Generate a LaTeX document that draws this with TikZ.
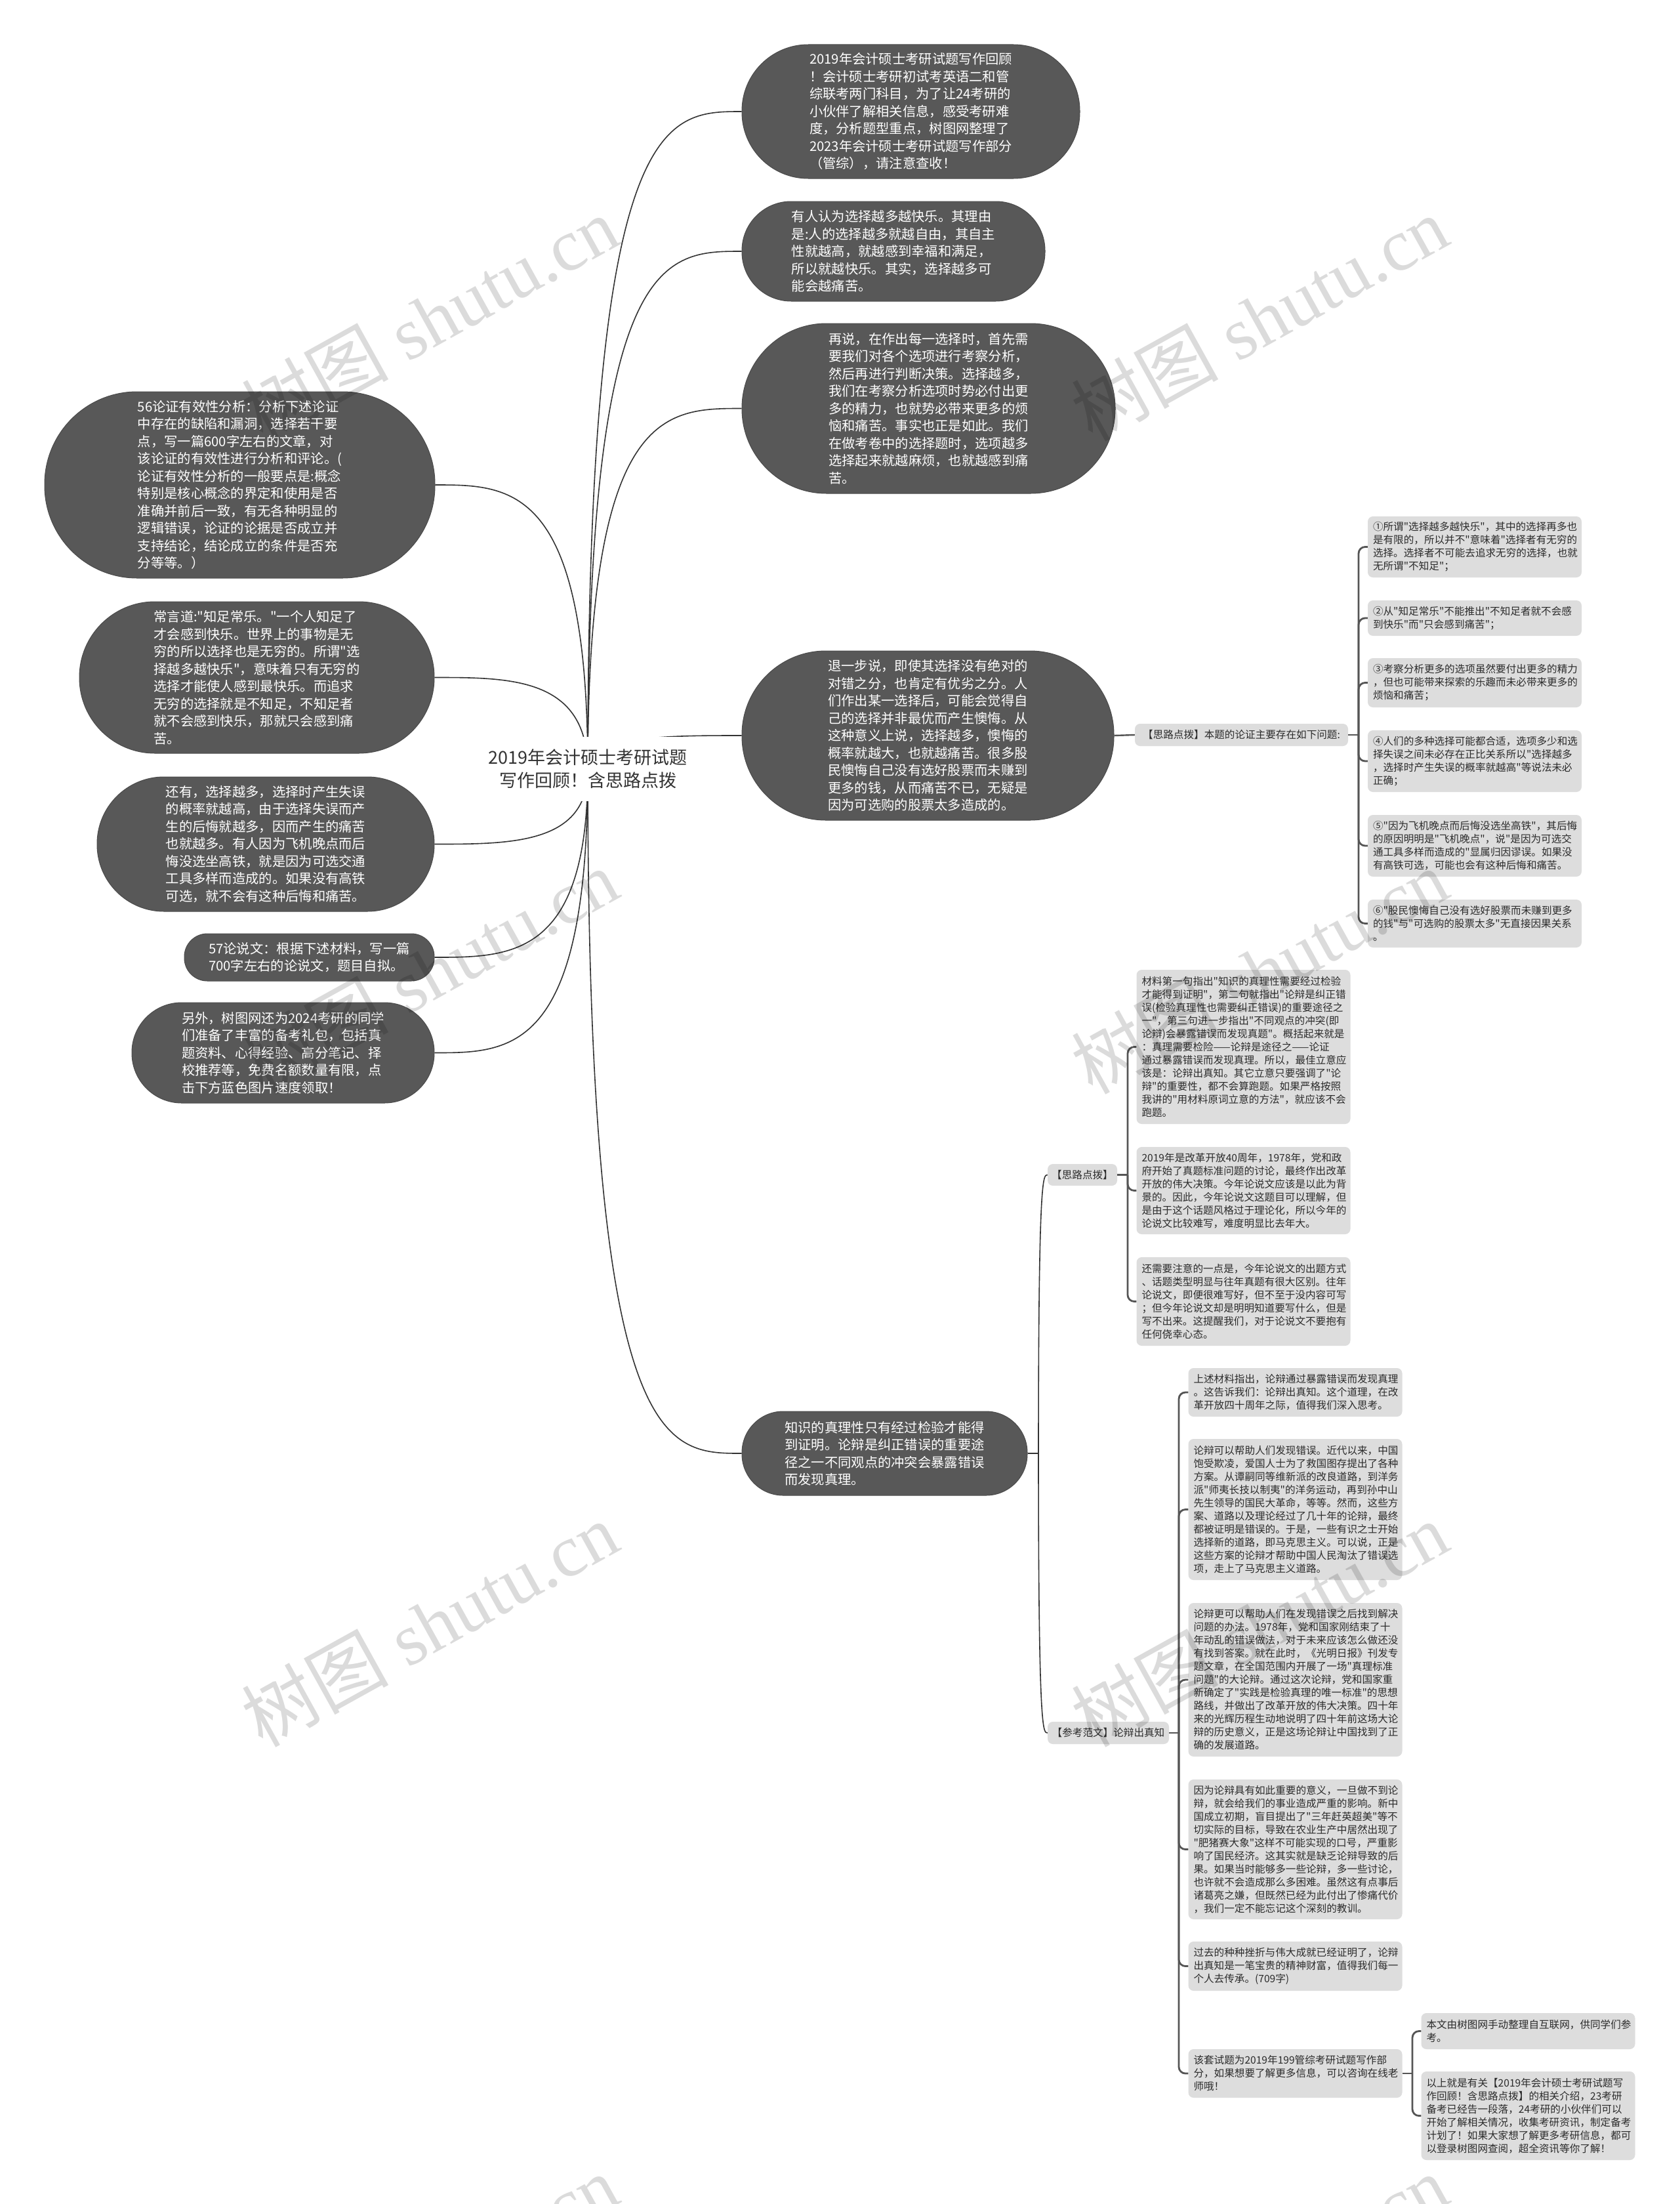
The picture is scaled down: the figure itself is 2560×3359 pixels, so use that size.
\documentclass[tikz,border=0pt]{standalone}
\usepackage{fontspec}
\newfontfamily\cjk{Noto Sans CJK SC}
\newfontfamily\wmserif{Liberation Serif}
\usetikzlibrary{calc}
\definecolor{darkfill}{HTML}{585858}
\definecolor{darkedge}{HTML}{4A4A4A}
\definecolor{lightfill}{HTML}{DDDDDD}
\definecolor{lighttext}{HTML}{2B2B2B}
\definecolor{linkc}{HTML}{333333}
\definecolor{brkc}{HTML}{555555}
\definecolor{roottext}{HTML}{333333}
\newcommand\rlink[2]{\draw[link] (#1) .. controls (#1 |- #2) and ($(#1 |- #2)!0.5!(#2)$) .. (#2);}
\begin{document}
\begin{tikzpicture}[x=1pt,y=-1pt,
  dark/.style={draw=darkedge, line width=1pt, fill=darkfill, text=white, font=\cjk\fontsize{20.3pt}{26.5pt}\selectfont, align=left, inner sep=0pt},
  light/.style={fill=lightfill, text=lighttext, font=\cjk\fontsize{15.6pt}{20pt}\selectfont, rounded corners=8pt, inner sep=0pt},
  lbox/.style={light, text width=310pt, align=left, inner xsep=8pt, inner ysep=0pt},
  lab/.style={light, align=center},
  rootnode/.style={fill=white, text=roottext, font=\cjk\fontsize{27pt}{35pt}\selectfont, align=center, inner sep=0pt, minimum width=312pt, minimum height=98pt},
  link/.style={draw=linkc, line width=1.6pt},
  brk/.style={draw=brkc, line width=2.8pt, rounded corners=10pt},
  wm/.style={rotate=29, opacity=0.14, text=black, font=\cjk\fontsize{112pt}{112pt}\selectfont, inner sep=0pt}
]
\useasboundingbox (0,0) rectangle (2560,3359);
\fill[white] (0,0) rectangle (2560,3359);

% ---------- first level dark nodes ----------
\node[dark, minimum width=515pt, minimum height=204pt, rounded corners=101pt] (n1) at (1388.5,170) {2019年会计硕士考研试题写作回顾\\！会计硕士考研初试考英语二和管\\综联考两门科目，为了让24考研的\\小伙伴了解相关信息，感受考研难\\度，分析题型重点，树图网整理了\\2023年会计硕士考研试题写作部分\\（管综），请注意查收！};
\node[dark, minimum width=462pt, minimum height=152pt, rounded corners=75pt] (n2) at (1362,383) {有人认为选择越多越快乐。其理由\\是:人的选择越多就越自由，其自主\\性就越高，就越感到幸福和满足，\\所以就越快乐。其实，选择越多可\\能会越痛苦。};
\node[dark, minimum width=569pt, minimum height=259pt, rounded corners=129pt] (n3) at (1415.5,622.5) {再说，在作出每一选择时，首先需\\要我们对各个选项进行考察分析，\\然后再进行判断决策。选择越多，\\我们在考察分析选项时势必付出更\\多的精力，也就势必带来更多的烦\\恼和痛苦。事实也正是如此。我们\\在做考卷中的选择题时，选项越多\\选择起来就越麻烦，也就越感到痛\\苦。};
\node[dark, minimum width=567pt, minimum height=258pt, rounded corners=128pt] (n4) at (1414.5,1121) {退一步说，即使其选择没有绝对的\\对错之分，也肯定有优劣之分。人\\们作出某一选择后，可能会觉得自\\己的选择并非最优而产生懊悔。从\\这种意义上说，选择越多，懊悔的\\概率就越大，也就越痛苦。很多股\\民懊悔自己没有选好股票而未赚到\\更多的钱，从而痛苦不已，无疑是\\因为可选购的股票太多造成的。};
\node[dark, minimum width=435pt, minimum height=128pt, rounded corners=63pt] (n5) at (1348.5,2215) {知识的真理性只有经过检验才能得\\到证明。论辩是纠正错误的重要途\\径之一不同观点的冲突会暴露错误\\而发现真理。};

\node[dark, minimum width=595pt, minimum height=284pt, rounded corners=141pt] (l1) at (365.5,739) {56论证有效性分析：分析下述论证\\中存在的缺陷和漏洞，选择若干要\\点，写一篇600字左右的文章，对\\该论证的有效性进行分析和评论。(\\论证有效性分析的一般要点是:概念\\特别是核心概念的界定和使用是否\\准确并前后一致，有无各种明显的\\逻辑错误，论证的论据是否成立并\\支持结论，结论成立的条件是否充\\分等等。）};
\node[dark, minimum width=541pt, minimum height=231pt, rounded corners=115pt] (l2) at (391.5,1032.5) {常言道:"知足常乐。"一个人知足了\\才会感到快乐。世界上的事物是无\\穷的所以选择也是无穷的。所谓"选\\择越多越快乐"，意味着只有无穷的\\选择才能使人感到最快乐。而追求\\无穷的选择就是不知足，不知足者\\就不会感到快乐，那就只会感到痛\\苦。};
\node[dark, minimum width=514pt, minimum height=205pt, rounded corners=102pt] (l3) at (405,1286.5) {还有，选择越多，选择时产生失误\\的概率就越高，由于选择失误而产\\生的后悔就越多，因而产生的痛苦\\也就越多。有人因为飞机晚点而后\\悔没选坐高铁，就是因为可选交通\\工具多样而造成的。如果没有高铁\\可选，就不会有这种后悔和痛苦。};
\node[dark, minimum width=381pt, minimum height=72pt, rounded corners=35pt] (l4) at (471.5,1459) {57论说文：根据下述材料，写一篇\\700字左右的论说文，题目自拟。};
\node[dark, minimum width=461pt, minimum height=153pt, rounded corners=76pt] (l5) at (431.5,1604.5) {另外，树图网还为2024考研的同学\\们准备了丰富的备考礼包，包括真\\题资料、心得经验、高分笔记、择\\校推荐等，免费名额数量有限，点\\击下方蓝色图片速度领取！};

% ---------- root links ----------
\coordinate (rc) at (896,1174);
\rlink{rc}{n1.west}
\rlink{rc}{n2.west}
\rlink{rc}{n3.west}
\rlink{rc}{n4.west}
\rlink{rc}{n5.west}
\rlink{rc}{l1.east}
\rlink{rc}{l2.east}
\rlink{rc}{l3.east}
\rlink{rc}{l4.east}
\rlink{rc}{l5.east}
\node[rootnode] (root) at (896,1172) {2019年会计硕士考研试题\\写作回顾！含思路点拨};

% ---------- group under n4 ----------
\node[lab, minimum width=325pt, minimum height=34pt] (p1) at (1892.5,1120) {【思路点拨】本题的论证主要存在如下问题:};
\node[lbox, minimum height=93pt] (r1) at (2248,833.5) {①所谓"选择越多越快乐"，其中的选择再多也\\是有限的，所以并不"意味着"选择者有无穷的\\选择。选择者不可能去追求无穷的选择，也就\\无所谓"不知足"；};
\node[lbox, minimum height=54pt] (r2) at (2248,942) {②从"知足常乐"不能推出"不知足者就不会感\\到快乐"而"只会感到痛苦"；};
\node[lbox, minimum height=75pt] (r3) at (2248,1040.5) {③考察分析更多的选项虽然要付出更多的精力\\，但也可能带来探索的乐趣而未必带来更多的\\烦恼和痛苦；};
\node[lbox, minimum height=94pt] (r4) at (2248,1160) {④人们的多种选择可能都合适，选项多少和选\\择失误之间未必存在正比关系所以"选择越多\\，选择时产生失误的概率就越高"等说法未必\\正确；};
\node[lbox, minimum height=94pt] (r5) at (2248,1289) {⑤"因为飞机晚点而后悔没选坐高铁"，其后悔\\的原因明明是"飞机晚点"，说"是因为可选交\\通工具多样而造成的"显属归因谬误。如果没\\有高铁可选，可能也会有这种后悔和痛苦。};
\node[lbox, minimum height=73pt] (r6) at (2248,1407.5) {⑥"股民懊悔自己没有选好股票而未赚到更多\\的钱"与"可选购的股票太多"无直接因果关系\\。};
\draw[brkc, line width=2.4pt] (n4.east) -- (p1.west);
\coordinate (j1) at (2071,1120);
\draw[brk] (p1.east) -- (j1);
\foreach \c in {r1,r2,r3,r4,r5,r6} \draw[brk] (j1) |- (\c.west);

% ---------- group under n5 ----------
\node[lab, minimum width=106pt, minimum height=33pt] (p2) at (1650,1790.5) {【思路点拨】};
\node[lab, minimum width=185pt, minimum height=34pt] (p3) at (1689.5,2641) {【参考范文】论辩出真知};
\coordinate (n5j) at (1583,2215);
\draw[link] (n5.east) -- (n5j);
\rlink{n5j}{p2.west}
\rlink{n5j}{p3.west}

\node[lbox, minimum height=235pt] (s1) at (1895.5,1595.5) {材料第一句指出"知识的真理性需要经过检验\\才能得到证明"，第二句就指出"论辩是纠正错\\误(检验真理性也需要纠正错误)的重要途径之\\一"，第三句进一步指出"不同观点的冲突(即\\论辩)会暴露错误而发现真题"。概括起来就是\\：真理需要检险——论辩是途径之——论证\\通过暴露错误而发现真理。所以，最佳立意应\\该是：论辩出真知。其它立意只要强调了"论\\辩"的重要性，都不会算跑题。如果严格按照\\我讲的"用材料原词立意的方法"，就应该不会\\跑题。};
\node[lbox, minimum height=133pt] (s2) at (1895.5,1814.5) {2019年是改革开放40周年，1978年，党和政\\府开始了真题标准问题的讨论，最终作出改革\\开放的伟大决策。今年论说文应该是以此为背\\景的。因此，今年论说文这题目可以理解，但\\是由于这个话题风格过于理论化，所以今年的\\论说文比较难写，难度明显比去年大。};
\node[lbox, minimum height=135pt] (s3) at (1895.5,1983.5) {还需要注意的一点是，今年论说文的出题方式\\、话题类型明显与往年真题有很大区别。往年\\论说文，即便很难写好，但不至于没内容可写\\；但今年论说文却是明明知道要写什么，但是\\写不出来。这提醒我们，对于论说文不要抱有\\任何侥幸心态。};
\coordinate (j2) at (1719,1790.5);
\draw[brk] (p2.east) -- (j2);
\foreach \c in {s1,s2,s3} \draw[brk] (j2) |- (\c.west);

\node[lbox, minimum height=74pt] (t1) at (1974.5,2122) {上述材料指出，论辩通过暴露错误而发现真理\\。这告诉我们：论辩出真知。这个道理，在改\\革开放四十周年之际，值得我们深入思考。};
\node[lbox, minimum height=215pt] (t2) at (1974.5,2300.5) {论辩可以帮助人们发现错误。近代以来，中国\\饱受欺凌，爱国人士为了救国图存提出了各种\\方案。从谭嗣同等维新派的改良道路，到洋务\\派"师夷长技以制夷"的洋务运动，再到孙中山\\先生领导的国民大革命，等等。然而，这些方\\案、道路以及理论经过了几十年的论辩，最终\\都被证明是错误的。于是，一些有识之士开始\\选择新的道路，即马克思主义。可以说，正是\\这些方案的论辩才帮助中国人民淘汰了错误选\\项，走上了马克思主义道路。};
\node[lbox, minimum height=234pt] (t3) at (1974.5,2560) {论辩更可以帮助人们在发现错误之后找到解决\\问题的办法。1978年，党和国家刚结束了十\\年动乱的错误做法，对于未来应该怎么做还没\\有找到答案。就在此时，《光明日报》刊发专\\题文章，在全国范围内开展了一场"真理标准\\问题"的大论辩。通过这次论辩，党和国家重\\新确定了"实践是检验真理的唯一标准"的思想\\路线，并做出了改革开放的伟大决策。四十年\\来的光辉历程生动地说明了四十年前这场大论\\辩的历史意义，正是这场论辩让中国找到了正\\确的发展道路。};
\node[lbox, minimum height=213pt] (t4) at (1974.5,2818.5) {因为论辩具有如此重要的意义，一旦做不到论\\辩，就会给我们的事业造成严重的影响。新中\\国成立初期，盲目提出了"三年赶英超美"等不\\切实际的目标，导致在农业生产中居然出现了\\"肥猪赛大象"这样不可能实现的口号，严重影\\响了国民经济。这其实就是缺乏论辩导致的后\\果。如果当时能够多一些论辩，多一些讨论，\\也许就不会造成那么多困难。虽然这有点事后\\诸葛亮之嫌，但既然已经为此付出了惨痛代价\\，我们一定不能忘记这个深刻的教训。};
\node[lbox, minimum height=75pt] (t5) at (1974.5,2996.5) {过去的种种挫折与伟大成就已经证明了，论辩\\出真知是一笔宝贵的精神财富，值得我们每一\\个人去传承。(709字)};
\node[lbox, minimum height=74pt] (t6) at (1974.5,3160) {该套试题为2019年199管综考研试题写作部\\分，如果想要了解更多信息，可以咨询在线老\\师哦！};
\coordinate (j3) at (1797,2641);
\draw[brk] (p3.east) -- (j3);
\foreach \c in {t1,t2,t3,t4,t5,t6} \draw[brk] (j3) |- (\c.west);

\node[lbox, minimum height=55pt] (u1) at (2329.5,3095.5) {本文由树图网手动整理自互联网，供同学们参\\考。};
\node[lbox, minimum height=135pt] (u2) at (2329.5,3224.5) {以上就是有关【2019年会计硕士考研试题写\\作回顾！含思路点拨】的相关介绍，23考研\\备考已经告一段落，24考研的小伙伴们可以\\开始了解相关情况，收集考研资讯，制定备考\\计划了！如果大家想了解更多考研信息，都可\\以登录树图网查阅，超全资讯等你了解！};
\coordinate (j4) at (2153,3160);
\draw[brk] (t6.east) -- (j4);
\foreach \c in {u1,u2} \draw[brk] (j4) |- (\c.west);

% ---------- watermarks ----------
\foreach \wx in {655,1920} \foreach \wy in {485,1480,2475,3470}
  \node[wm] at (\wx,\wy) {树图\hspace{0.25em}{\wmserif shutu.cn}};
\end{tikzpicture}
\end{document}
